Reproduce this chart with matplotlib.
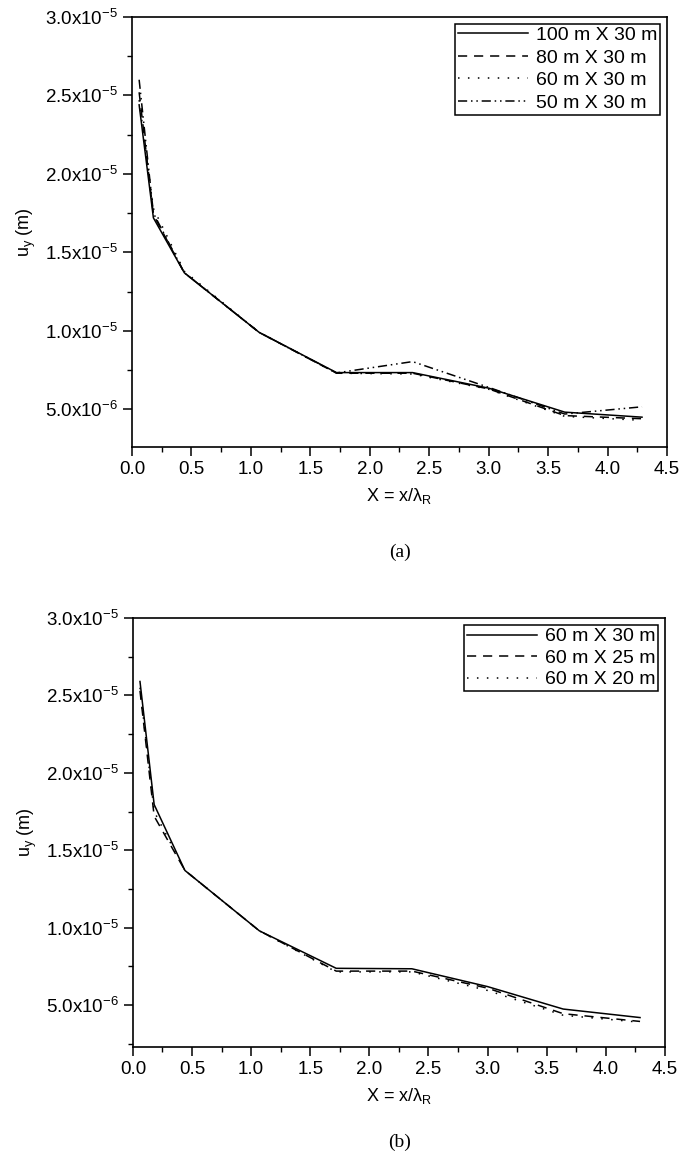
import numpy as np
import matplotlib
matplotlib.use('Agg')
import matplotlib.pyplot as plt
from matplotlib.ticker import MultipleLocator, FuncFormatter

plt.rcParams['font.family'] = ['Liberation Sans', 'DejaVu Sans']
plt.rcParams['mathtext.fontset'] = 'custom'
plt.rcParams['mathtext.rm'] = 'Liberation Sans'

# distance from source, X = x/lambda_R
xpos = [0.06, 0.18, 0.44, 1.07, 1.72, 2.36, 3.0, 3.64, 4.29]

# (a) model length varied, depth 30 m
labels_a = ['100 m X 30 m', '80 m X 30 m', '60 m X 30 m', '50 m X 30 m']
uy_100x30 = [2.44e-5, 1.72e-5, 1.37e-5, 9.9e-6, 7.34e-6, 7.34e-6, 6.35e-6, 4.82e-6, 4.50e-6]
uy_80x30 = [2.52e-5, 1.74e-5, 1.37e-5, 9.9e-6, 7.30e-6, 7.30e-6, 6.30e-6, 4.60e-6, 4.40e-6]
uy_60x30 = [2.47e-5, 1.78e-5, 1.38e-5, 9.9e-6, 7.30e-6, 7.25e-6, 6.28e-6, 4.55e-6, 4.30e-6]
uy_50x30 = [2.60e-5, 1.75e-5, 1.37e-5, 9.9e-6, 7.32e-6, 8.04e-6, 6.40e-6, 4.70e-6, 5.16e-6]

# (b) model depth varied, length 60 m
labels_b = ['60 m X 30 m', '60 m X 25 m', '60 m X 20 m']
uy_60x30b = [2.59e-5, 1.795e-5, 1.37e-5, 9.8e-6, 7.38e-6, 7.35e-6, 6.20e-6, 4.75e-6, 4.20e-6]
uy_60x25 = [2.53e-5, 1.72e-5, 1.37e-5, 9.8e-6, 7.20e-6, 7.20e-6, 6.10e-6, 4.45e-6, 3.95e-6]
uy_60x20 = [2.55e-5, 1.75e-5, 1.37e-5, 9.8e-6, 7.15e-6, 7.15e-6, 5.95e-6, 4.35e-6, 3.90e-6]

styles = ['-', (0, (6, 4.5)), (0, (1, 5.5)), (0, (6, 2.5, 1, 2.5, 1, 2.5))]


def sci(v, pos):
    if v <= 0:
        return ''
    e = int(np.floor(np.log10(v) + 1e-9))
    m = v / 10 ** e
    return r'$\mathregular{%.1fx10^{%d}}$' % (m, e)


def setup(ax, ybot):
    ax.set_xlim(0, 4.5)
    ax.set_ylim(ybot, 3.0e-5)
    ax.xaxis.set_major_locator(MultipleLocator(0.5))
    ax.xaxis.set_minor_locator(MultipleLocator(0.25))
    ax.yaxis.set_major_locator(MultipleLocator(5e-6))
    ax.yaxis.set_minor_locator(MultipleLocator(2.5e-6))
    ax.xaxis.set_major_formatter(FuncFormatter(lambda v, p: '%.1f' % v))
    ax.yaxis.set_major_formatter(FuncFormatter(sci))
    ax.tick_params(which='major', direction='out', length=6.5, width=1.1, labelsize=13.5)
    ax.tick_params(which='minor', direction='out', length=3.5, width=1.0)
    for s in ax.spines.values():
        s.set_linewidth(1.2)
    ax.set_xlabel(r'X = x/λ$_\mathregular{R}$', fontsize=13, labelpad=6)
    ax.set_ylabel(r'u$_\mathregular{y}$ (m)', fontsize=13, labelpad=5)


fig = plt.figure(figsize=(6.85, 11.61), dpi=100)

ax1 = fig.add_axes([0.1927, 0.615, 0.781, 0.3704])
for ys, lab, ls in zip([uy_100x30, uy_80x30, uy_60x30, uy_50x30], labels_a, styles):
    ax1.plot(xpos, ys, color='black', lw=1.1, linestyle=ls, label=lab)
setup(ax1, 2.6e-6)
leg = ax1.legend(loc='upper right', fontsize=14, handlelength=3.6, handletextpad=0.4,
                 borderpad=0.15, labelspacing=0.25, borderaxespad=0.35, fancybox=False,
                 framealpha=1)
leg.get_frame().set_edgecolor('black')
leg.get_frame().set_linewidth(1.1)

ax2 = fig.add_axes([0.194, 0.0982, 0.7766, 0.3695])
for ys, lab, ls in zip([uy_60x30b, uy_60x25, uy_60x20], labels_b, styles):
    ax2.plot(xpos, ys, color='black', lw=1.1, linestyle=ls, label=lab)
setup(ax2, 2.3e-6)
leg = ax2.legend(loc='upper right', fontsize=14, handlelength=3.6, handletextpad=0.4,
                 borderpad=0.15, labelspacing=0.2, borderaxespad=0.35, fancybox=False,
                 framealpha=1)
leg.get_frame().set_edgecolor('black')
leg.get_frame().set_linewidth(1.1)

fig.text(0.584, 0.524, '(a)', ha='center', va='center', fontsize=14, family='Liberation Serif')
fig.text(0.584, 0.016, '(b)', ha='center', va='center', fontsize=14, family='Liberation Serif')

fig.savefig('out.png', dpi=100)
